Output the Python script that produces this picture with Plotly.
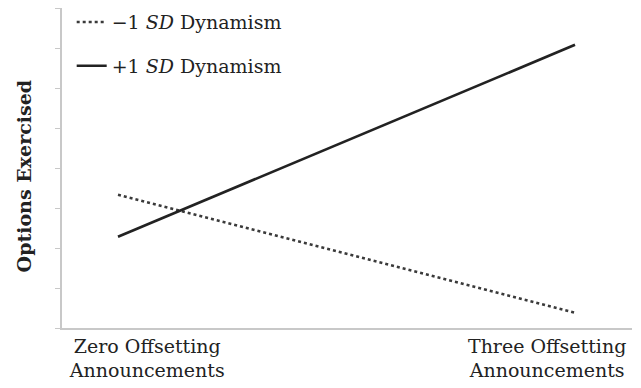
import plotly.graph_objects as go

# x positions of the two conditions (0 = zero, 1 = three offsetting announcements)
conditions = [0, 1]
low_dynamism = [3.33, 0.38]
high_dynamism = [2.28, 7.08]

tick_pos = [0.064, 0.939]
tick_text = ['Zero Offsetting<br>Announcements', 'Three Offsetting<br>Announcements']

font_family = 'DejaVu Serif'

fig = go.Figure()

fig.add_trace(go.Scatter(
    x=conditions,
    y=low_dynamism,
    mode='lines',
    name='\u22121 <i>SD</i> Dynamism',
    legendgroup='a',
    line=dict(color='#3a3a3a', width=2.5, dash='dot')
))

fig.add_trace(go.Scatter(
    x=conditions,
    y=high_dynamism,
    mode='lines',
    name='+1 <i>SD</i> Dynamism',
    legendgroup='b',
    line=dict(color='#222222', width=2.7)
))

# y title sits a bit below the middle of the axis, so use an annotation
fig.add_annotation(
    text='<b>Options Exercised</b>',
    xref='paper', yref='paper',
    x=-0.066, y=0.475,
    xanchor='center', yanchor='middle',
    textangle=-90,
    showarrow=False,
    font=dict(family=font_family, size=19, color='#222222')
)

# page body has an 8px margin, so the figure is a little smaller
fig.update_layout(
    width=633,
    height=380,
    margin=dict(l=54, r=9, t=0, b=60, autoexpand=False),
    plot_bgcolor='white',
    paper_bgcolor='white',
    font=dict(family=font_family, size=19, color='#222222'),
    showlegend=True,
    legend=dict(
        x=0.017, y=1.015,
        xanchor='left', yanchor='top',
        bgcolor='rgba(0,0,0,0)',
        tracegroupgap=16,
        font=dict(family=font_family, size=19, color='#222222')
    ),
    xaxis=dict(
        range=[-0.1225, 1.1247],
        tickvals=tick_pos,
        ticktext=tick_text,
        showgrid=False,
        zeroline=False,
        showline=True,
        linecolor='#c8c8c8',
        linewidth=1.5,
        ticks='',
        automargin=False,
        ticklabelstandoff=0,
        tickfont=dict(family=font_family, size=19, color='#222222')
    ),
    yaxis=dict(
        range=[0, 8],
        dtick=1,
        tick0=0,
        showticklabels=False,
        showgrid=False,
        zeroline=False,
        showline=True,
        linecolor='#c8c8c8',
        linewidth=1.5,
        ticks='outside',
        ticklen=5,
        tickcolor='#c8c8c8',
        tickwidth=1,
        automargin=False
    )
)

fig.write_html('out.html')
